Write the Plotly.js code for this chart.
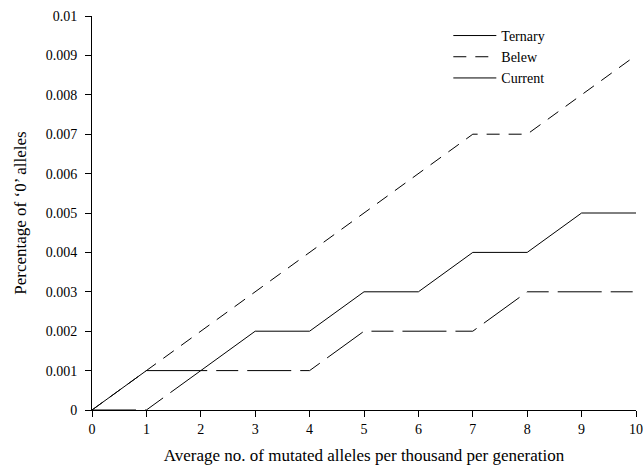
<!DOCTYPE html>
<html>
<head>
<meta charset="utf-8">
<script src="https://cdn.plot.ly/plotly-3.0.1.min.js"></script>
<style>html,body{margin:0;padding:0;background:#fff;}#chart{width:643px;height:465px;}</style>
</head>
<body>
<div id="chart"></div>
<script>
var xVals = [0, 1, 2, 3, 4, 5, 6, 7, 8, 9, 10];
var ternary = [0, 0.001, 0.001, 0.002, 0.002, 0.003, 0.003, 0.004, 0.004, 0.005, 0.005];
var belew = [0, 0.001, 0.002, 0.003, 0.004, 0.005, 0.006, 0.007, 0.007, 0.008, 0.009];
var current = [0, 0, 0.001, 0.001, 0.001, 0.002, 0.002, 0.002, 0.003, 0.003, 0.003];
var yTickVals = [0, 0.001, 0.002, 0.003, 0.004, 0.005, 0.006, 0.007, 0.008, 0.009, 0.01];
var yTickText = ["0", "0.001", "0.002", "0.003", "0.004", "0.005", "0.006", "0.007", "0.008", "0.009", "0.01"];
var xTickVals = [0, 1, 2, 3, 4, 5, 6, 7, 8, 9, 10];

var fontFam = "'Liberation Serif', 'DejaVu Serif', serif";
var traces = [
  {x: xVals, y: ternary, name: "Ternary", mode: "lines", line: {color: "#000", width: 1}},
  {x: xVals, y: belew, name: "Belew", mode: "lines", line: {color: "#000", width: 1, dash: "13px,9px"}},
  {x: xVals, y: current, name: "Current", mode: "lines", line: {color: "#000", width: 1, dash: "44px,9px,22px,9px"}}
];
var layout = {
  width: 643, height: 465,
  margin: {l: 92, r: 7, t: 16, b: 55},
  paper_bgcolor: "#fff", plot_bgcolor: "#fff",
  font: {family: fontFam, size: 14, color: "#000"},
  showlegend: true,
  legend: {x: 0.655, y: 0.99, xanchor: "left", yanchor: "top", bgcolor: "rgba(0,0,0,0)", borderwidth: 0,
           font: {family: fontFam, size: 14, color: "#000"}, itemwidth: 43, tracegroupgap: 0},
  xaxis: {range: [0, 10], tickvals: xTickVals, ticks: "outside", ticklen: 6, tickcolor: "#000",
          showline: true, linecolor: "#000", linewidth: 1, showgrid: false, zeroline: false,
          tickfont: {family: fontFam, size: 14, color: "#000"},
          title: {text: "Average no. of mutated alleles per thousand per generation", font: {family: fontFam, size: 17, color: "#000"}, standoff: 14},
          automargin: false, fixedrange: true},
  yaxis: {range: [0, 0.01], tickvals: yTickVals, ticktext: yTickText, ticks: "outside", ticklen: 6, tickcolor: "#000",
          showline: true, linecolor: "#000", linewidth: 1, showgrid: false, zeroline: false,
          tickfont: {family: fontFam, size: 14, color: "#000"}, ticklabelstandoff: 5,
          title: {text: "Percentage of ‘0’ alleles", font: {family: fontFam, size: 17, color: "#000"}, standoff: 14},
          automargin: false, fixedrange: true}
};
Plotly.newPlot("chart", traces, layout, {displayModeBar: false, staticPlot: true});
</script>
</body>
</html>
